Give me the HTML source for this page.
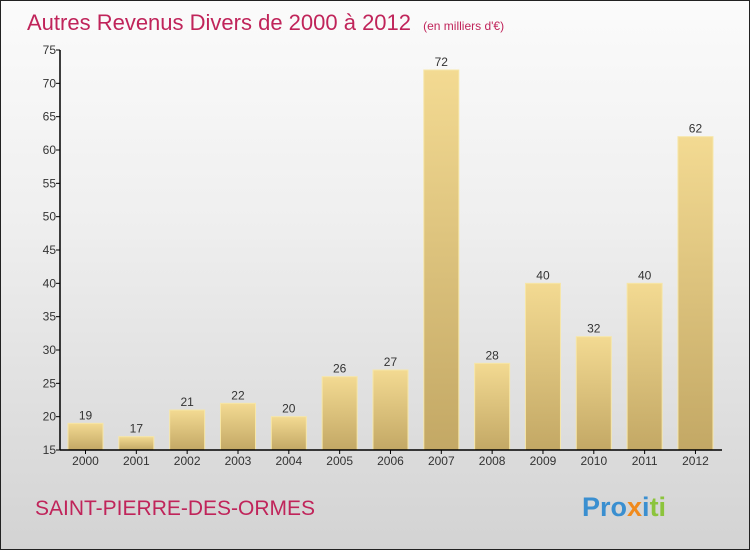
<!DOCTYPE html>
<html><head><meta charset="utf-8"><style>
html,body{margin:0;padding:0}
body{width:750px;height:550px;overflow:hidden;font-family:"Liberation Sans",sans-serif}
#wrap{position:relative;width:748px;height:548px;border:1px solid #222;background:linear-gradient(#fbfbfb,#efefef 40%,#d3d3d3)}
</style></head><body>
<div id="wrap">
<svg width="748" height="548" viewBox="1 1 748 548" style="position:absolute;left:0;top:0">
<defs><linearGradient id="bg" x1="0" y1="0" x2="0" y2="1"><stop offset="0" stop-color="#f3da92"/><stop offset="1" stop-color="#c3a865"/></linearGradient></defs>
<text x="27" y="30" font-size="22" fill="#c0245a">Autres Revenus Divers de 2000 à 2012 <tspan font-size="12" dx="6">(en milliers d'€)</tspan></text>
<g id="plot"></g>
<text x="35" y="515" font-size="21" fill="#c0245a">SAINT-PIERRE-DES-ORMES</text>
<text x="582" y="516" font-size="27" font-weight="bold"><tspan fill="#3a8fd0">Pro</tspan><tspan fill="#f08a1c">x</tspan><tspan fill="#3a8fd0">i</tspan><tspan fill="#8cc43c">ti</tspan></text>
</svg>
</div>
<script>
const years=["2000","2001","2002","2003","2004","2005","2006","2007","2008","2009","2010","2011","2012"];
const values=[19,17,21,22,20,26,27,72,28,40,32,40,62];
const yTicks=[15,20,25,30,35,40,45,50,55,60,65,70,75];
const ns="http://www.w3.org/2000/svg";
const g=document.getElementById('plot');
const y0=450,yTop=50,vmin=15,vmax=75,x0=60,step=50.83,bw=35;
const ys=v=>y0-(v-vmin)*(y0-yTop)/(vmax-vmin);
const xs=i=>85.5+i*step;
function mk(t,a){const e=document.createElementNS(ns,t);for(const k in a)e.setAttribute(k,a[k]);g.appendChild(e);return e;}
values.forEach((v,i)=>{
 const r=mk('rect',{x:xs(i)-bw/2,y:ys(v),width:bw,height:y0-ys(v),fill:'url(#bg)',stroke:'#f6e6a8','stroke-width':1});
 
 
 const t=mk('text',{x:xs(i),y:ys(v)-4,'font-size':12,'text-anchor':'middle',fill:'#333'});
 t.textContent=v;
 
 
 const tk=mk('line',{x1:xs(i),x2:xs(i),y1:y0,y2:y0+4,stroke:'#000'});
 
 
 const xl=mk('text',{x:xs(i),y:y0+15,'font-size':12,'text-anchor':'middle',fill:'#333'});
 xl.textContent=years[i];
 
 
});
yTicks.forEach(v=>{
 const l=mk('line',{x1:x0-4,x2:x0,y1:ys(v),y2:ys(v),stroke:'#000'});
 
 
 const t=mk('text',{x:x0-4,y:ys(v)+4,'font-size':12,'text-anchor':'end',fill:'#333'});
 t.textContent=v;
 
 
});
const ya=mk('line',{x1:x0,x2:x0,y1:yTop,y2:y0,stroke:'#000','stroke-width':1.5});


const xa=mk('line',{x1:x0,x2:722,y1:y0,y2:y0,stroke:'#000','stroke-width':1.5});


</script>
</body></html>
